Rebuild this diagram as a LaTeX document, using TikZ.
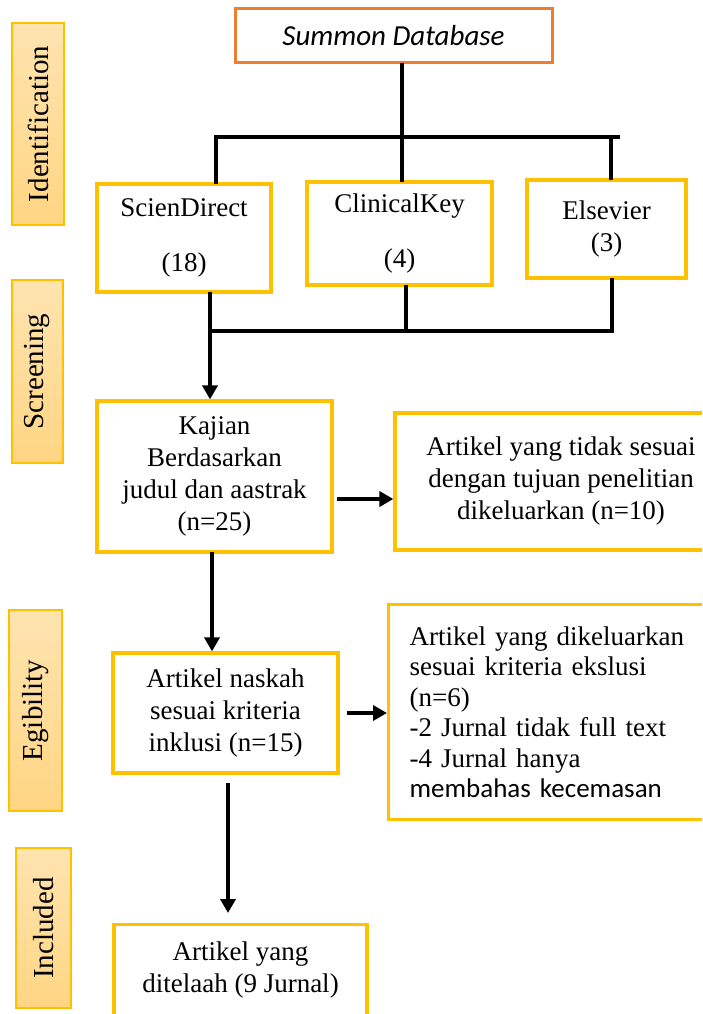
\documentclass[tikz,border=0pt]{standalone}
\usepackage{fontspec}
\setmainfont{Liberation Serif}
\newfontfamily\calibri{Carlito}
\usetikzlibrary{arrows.meta}
\definecolor{gold}{HTML}{FFC000}
\definecolor{srcline}{HTML}{ED7D31}
\definecolor{phaseL}{HTML}{FFE4B0}
\definecolor{phaseR}{HTML}{FFD583}

\begin{document}
\begin{tikzpicture}[x=1pt, y=-1pt,
  every node/.style={font=\fontsize{27}{32}\selectfont, text=black},
  flowbox/.style={draw=gold, line width=3.2pt, fill=white, align=center, inner sep=0pt},
  srcbox/.style={draw=srcline, line width=3pt, fill=white, inner sep=0pt},
  phase/.style={draw=gold, line width=1.4pt, rotate=90, top color=phaseL, bottom color=phaseR,
                inner sep=0pt, font=\fontsize{29}{32}\selectfont},
  link/.style={line width=3.6pt, line cap=rect},
  arr/.style={line width=3.6pt, -{Triangle[width=15pt,length=14pt]}}
]
  \useasboundingbox (0,0) rectangle (702,1014);
  \clip (0,0) rectangle (702,1014);

  \node[phase, minimum width=202pt, minimum height=52pt] (idn) at (38,124) {Identification};
  \node[phase, minimum width=183pt, minimum height=51pt] (scr) at (37.5,371.5) {Screening};
  \node[phase, minimum width=201pt, minimum height=53pt] (egi) at (35.5,710.5) {Egibility};
  \node[phase, minimum width=160pt, minimum height=55pt] (inc) at (43.5,928) {Included};

  \node[srcbox, minimum width=317pt, minimum height=54pt] (summon) at (393.5,36)
    {\calibri\itshape\fontsize{29}{32}\selectfont Summon Database};

  \node[flowbox, minimum width=174pt, minimum height=108pt] (sd) at (184,238) {ScienDirect\\[23pt](18)};
  \node[flowbox, minimum width=185pt, minimum height=103pt] (ck) at (399.5,233.5) {ClinicalKey\\[23pt](4)};
  \node[flowbox, minimum width=159pt, minimum height=98pt] (els) at (606.5,229) {Elsevier\\(3)};

  \node[flowbox, minimum width=235pt, minimum height=151pt] (kaj) at (214.5,476.5)
    {Kajian\\Berdasarkan\\judul dan aastrak\\(n=25)};
  \node[flowbox, minimum width=332pt, minimum height=137pt] (excl1) at (561,481.5)
    {Artikel yang tidak sesuai\\dengan tujuan penelitian\\dikeluarkan (n=10)};

  \node[flowbox, minimum width=225pt, minimum height=120pt] (nk) at (225.5,713)
    {Artikel naskah\\sesuai kriteria\\inklusi (n=15)};
  \node[flowbox, anchor=north west, align=left, text width=300pt, inner xsep=21pt,
        minimum height=215pt, font=\fontsize{27}{30.5}\selectfont] (excl2) at (387,603)
    {Artikel yang dikeluarkan\\sesuai kriteria ekslusi\\(n=6)\\-2 Jurnal tidak full text\\
     -4 Jurnal hanya\\{\calibri membahas kecemasan}};

  \node[flowbox, anchor=north, minimum width=253pt, inner ysep=17pt, text depth=70pt] (incl) at (240.5,923)
    {Artikel yang\\ditelaah (9 Jurnal)};

  \coordinate (hub) at (402,137);
  \coordinate (hubL) at (216,137);
  \coordinate (hubR) at (618,137);
  \coordinate (hubE) at (611,137);
  \draw[link] (summon.south -| hub) -- (hub);
  \draw[link] (hubL) -- (hubR);
  \draw[link] (hubL) -- (hubL |- sd.north);
  \draw[link] (hub) -- (hub |- ck.north);
  \draw[link] (hubE) -- (hubE |- els.north);

  \coordinate (join) at (210,331);
  \coordinate (joinC) at (406,331);
  \coordinate (joinE) at (612,331);
  \draw[link] (join |- sd.south) -- (join);
  \draw[link] (joinC |- ck.south) -- (joinC);
  \draw[link] (joinE |- els.south) -- (joinE);
  \draw[link] (join) -- (joinE);
  \draw[arr] (join) -- (join |- kaj.north);

  \coordinate (kdown) at (212,552);
  \coordinate (kright) at (337,499);
  \draw[arr] (kdown) -- (kdown |- nk.north);
  \draw[arr] (kright) -- (kright -| excl1.west);

  \coordinate (nright) at (347,713);
  \coordinate (ndown) at (228,783);
  \coordinate (ntip) at (228,913);
  \draw[arr] (nright) -- (nright -| excl2.west);
  \draw[arr] (ndown) -- (ntip);
\end{tikzpicture}
\end{document}
